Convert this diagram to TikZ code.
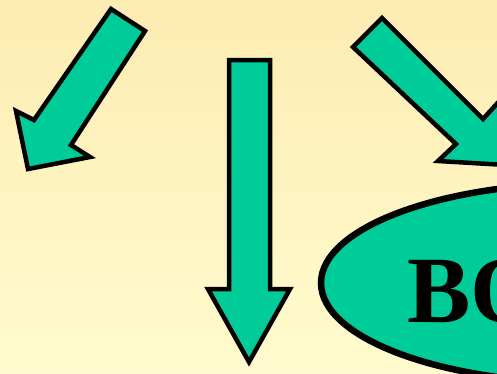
\documentclass[tikz,border=0pt]{standalone}
\usepackage{fontspec}
\setmainfont{Liberation Serif}
\usetikzlibrary{positioning}

\definecolor{arrowgreen}{RGB}{0,204,153}
\definecolor{bgtop}{RGB}{253,236,178}
\definecolor{bgbottom}{RGB}{255,251,206}

\begin{document}
\begin{tikzpicture}[
    x=1pt, y=-1pt,
    % --- STYLES ---
    arrowbody/.style={
        draw=black, fill=arrowgreen,
        line width=4.5pt, line join=miter
    },
    bubble/.style={
        draw=black, fill=arrowgreen,
        line width=6.5pt
    },
    bigword/.style={
        font=\fontsize{95}{95}\selectfont\bfseries,
        inner sep=0pt, anchor=base west
    }
]

% ===== 1. BACKGROUND =====
\useasboundingbox (0,0) rectangle (497,373);
\shade[top color=bgtop, bottom color=bgbottom] (0,0) rectangle (497,373);
\clip (0,0) rectangle (497,373);

% ===== 2. ARROWS =====
% left arrow
\draw[arrowbody] (111,9) -- (145,31) -- (71,145) -- (90,157) -- (28,169)
    -- (16,111) -- (34,120) -- cycle;

% middle arrow
\draw[arrowbody] (229,60) -- (270,60) -- (270,289) -- (290,289) -- (249,362)
    -- (208,289) -- (229,289) -- cycle;

% right arrow
\draw[arrowbody] (382,18) -- (483,119) -- (503,97) -- (506,165) -- (438,161)
    -- (456,144) -- (353,47) -- cycle;

% ===== 3. ELLIPSE =====
\coordinate (bocenter) at (589,283);
\draw[bubble] (bocenter) ellipse[x radius=268, y radius=100];
\node[bigword] (boword) at (407,322) {BO};

\end{tikzpicture}
\end{document}
